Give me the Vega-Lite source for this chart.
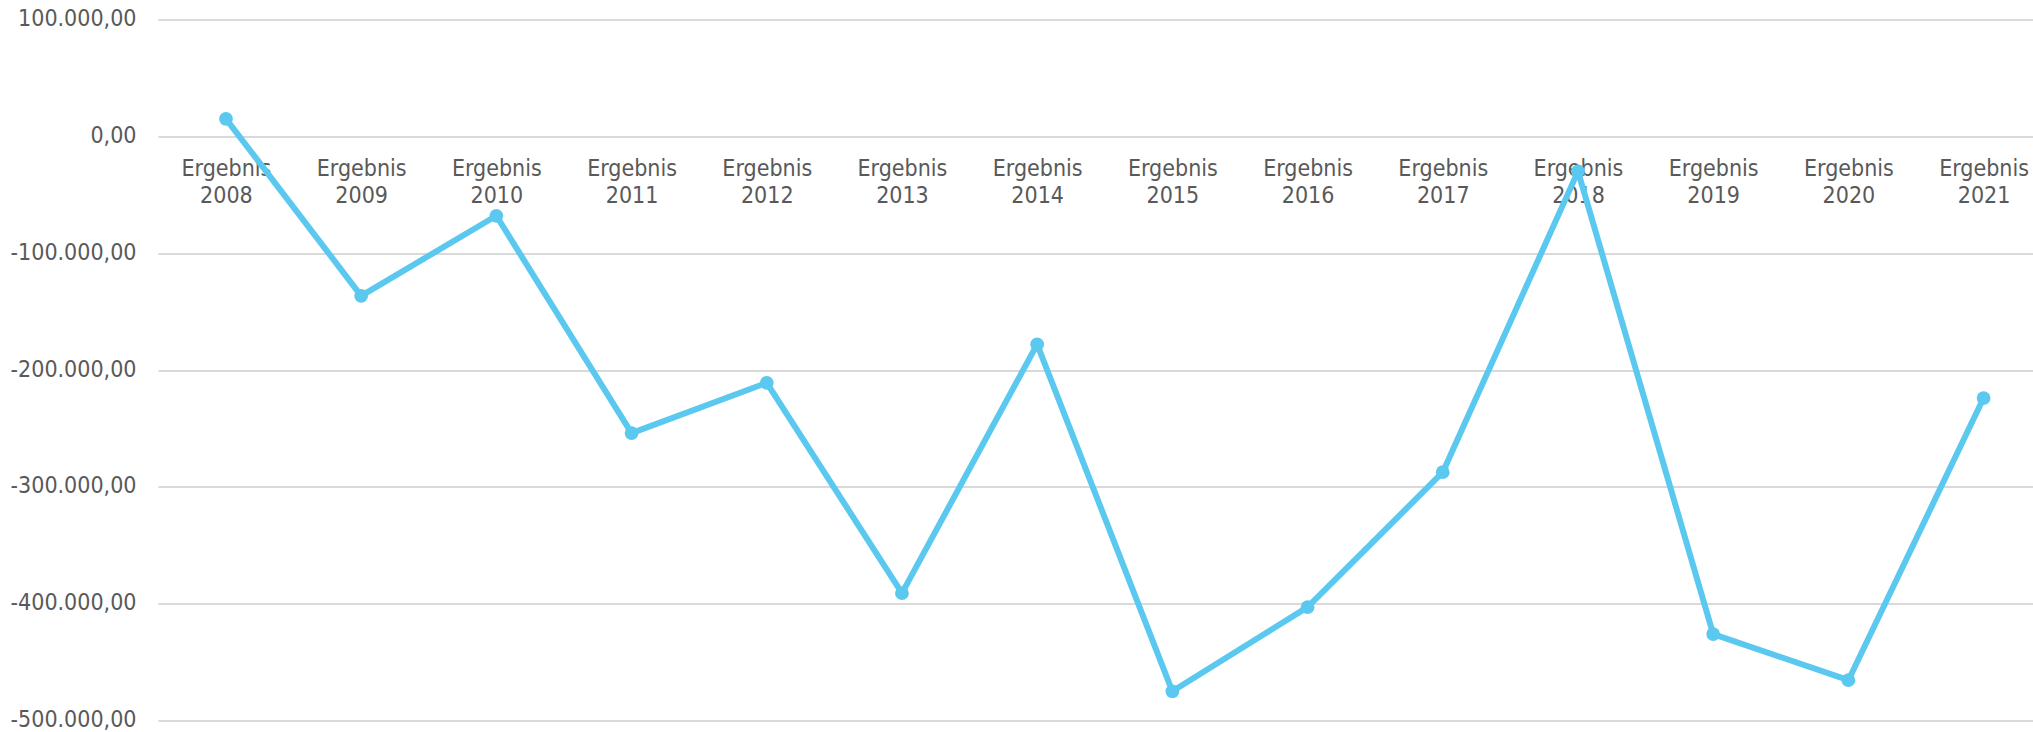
{
  "$schema": "https://vega.github.io/schema/vega-lite/v6.json",
  "autosize": "none",
  "width": 1875,
  "height": 701,
  "padding": {"left": 158, "top": 19.5, "right": 0, "bottom": 11.5},
  "background": "white",
  "config": {
    "locale": {"number": {"decimal": ",", "thousands": ".", "grouping": [3], "currency": ["", " €"], "minus": "-"}},
    "view": {"stroke": null},
    "font": "DejaVu Sans Condensed"
  },
  "data": {
    "values": [
      {"Jahr": "Ergebnis 2008", "Wert": 15000},
      {"Jahr": "Ergebnis 2009", "Wert": -136500},
      {"Jahr": "Ergebnis 2010", "Wert": -68000},
      {"Jahr": "Ergebnis 2011", "Wert": -254000},
      {"Jahr": "Ergebnis 2012", "Wert": -211000},
      {"Jahr": "Ergebnis 2013", "Wert": -391000},
      {"Jahr": "Ergebnis 2014", "Wert": -178000},
      {"Jahr": "Ergebnis 2015", "Wert": -475000},
      {"Jahr": "Ergebnis 2016", "Wert": -403000},
      {"Jahr": "Ergebnis 2017", "Wert": -287500},
      {"Jahr": "Ergebnis 2018", "Wert": -30000},
      {"Jahr": "Ergebnis 2019", "Wert": -426000},
      {"Jahr": "Ergebnis 2020", "Wert": -465500},
      {"Jahr": "Ergebnis 2021", "Wert": -224000}
    ]
  },
  "encoding": {
    "x": {
      "field": "Jahr",
      "type": "ordinal",
      "sort": null,
      "scale": {"type": "point", "padding": 0.434, "align": 0.579},
      "axis": {
        "title": null,
        "orient": "bottom",
        "offset": -584.2,
        "domain": false,
        "ticks": false,
        "grid": false,
        "labelAngle": 0,
        "labelExpr": "split(datum.label, ' ')",
        "labelFont": "DejaVu Sans Condensed",
        "labelFontSize": 23,
        "labelLineHeight": 27,
        "labelColor": "#595959",
        "labelPadding": 21,
        "labelOverlap": false,
        "labelBound": false,
        "labelFlush": false
      }
    },
    "y": {
      "field": "Wert",
      "type": "quantitative",
      "scale": {"domain": [-500000, 100000], "nice": false, "zero": false},
      "axis": {
        "title": null,
        "values": [-500000, -400000, -300000, -200000, -100000, 0, 100000],
        "format": ",.2f",
        "domain": false,
        "ticks": false,
        "grid": true,
        "gridColor": "#D9D9D9",
        "gridWidth": 2,
        "labelFont": "DejaVu Sans Condensed",
        "labelFontSize": 23,
        "labelColor": "#595959",
        "labelPadding": 22,
        "labelOffset": -1
      }
    }
  },
  "layer": [
    {"mark": {"type": "line", "color": "#5BC9EF", "strokeWidth": 6, "strokeJoin": "round"}},
    {"mark": {"type": "point", "shape": "circle", "filled": true, "opacity": 1, "color": "#5BC9EF", "size": 190}}
  ]
}
